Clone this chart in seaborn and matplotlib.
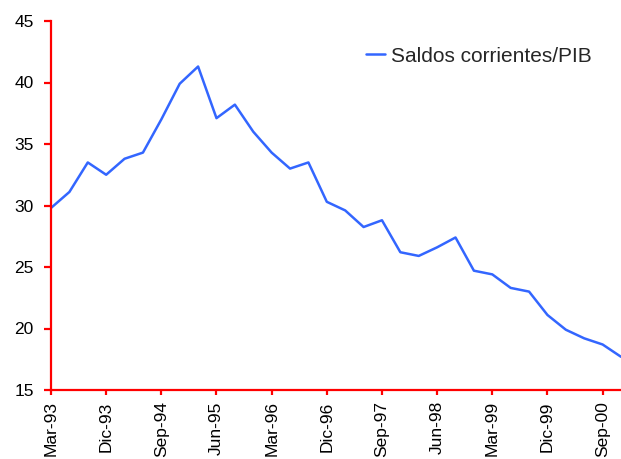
import matplotlib
matplotlib.use("Agg")
import matplotlib.pyplot as plt
import seaborn as sns
import pandas as pd

quarters = ["Mar-93", "Jun-93", "Sep-93", "Dic-93",
            "Mar-94", "Jun-94", "Sep-94", "Dic-94",
            "Mar-95", "Jun-95", "Sep-95", "Dic-95",
            "Mar-96", "Jun-96", "Sep-96", "Dic-96",
            "Mar-97", "Jun-97", "Sep-97", "Dic-97",
            "Mar-98", "Jun-98", "Sep-98", "Dic-98",
            "Mar-99", "Jun-99", "Sep-99", "Dic-99",
            "Mar-00", "Jun-00", "Sep-00", "Dic-00"]
saldos = [29.8, 31.1, 33.5, 32.5,
          33.8, 34.3, 37.0, 39.9,
          41.3, 37.1, 38.2, 36.0,
          34.3, 33.0, 33.5, 30.3,
          29.6, 28.25, 28.8, 26.2,
          25.9, 26.6, 27.4, 24.7,
          24.4, 23.3, 23.0, 21.1,
          19.9, 19.2, 18.7, 17.7]
series_name = "Saldos corrientes/PIB"
yticks = [15, 20, 25, 30, 35, 40, 45]

sns.set_style("white")
plt.rcParams['font.family'] = ['Liberation Sans', 'DejaVu Sans']

df = pd.DataFrame({"idx": range(len(quarters)), "q": quarters, "val": saldos})

fig = plt.figure(figsize=(6.21, 4.59), dpi=100)
ax = fig.add_axes([51/621, 1-390/459, 1-51/621, (390-21)/459])
sns.lineplot(data=df, x="idx", y="val", ax=ax, color="#3366FF", linewidth=1.8,
             label=series_name)

ax.set_xlim(0, len(quarters) - 1)
ax.set_ylim(15, 45)
ax.set_yticks(yticks)
ax.set_yticklabels([str(t) for t in yticks], fontsize=12.5)
tick_idx = list(range(0, len(quarters), 3))
ax.set_xticks(tick_idx)
ax.set_xticklabels([quarters[i] for i in tick_idx], rotation=90, fontsize=12.5)
ax.set_xlabel("")
ax.set_ylabel("")

for s in ["top", "right"]:
    ax.spines[s].set_visible(False)
for s in ["left", "bottom"]:
    ax.spines[s].set_color("red")
    ax.spines[s].set_linewidth(1.6)
ax.tick_params(axis="both", colors="red", labelcolor="black", direction="out",
               width=1.6, bottom=True, left=True)
ax.tick_params(axis="y", length=5, pad=7.5)
ax.tick_params(axis="x", length=3.6, pad=4.5)

leg = ax.legend(loc="center left", bbox_to_anchor=(366/621, 1-56/459),
                bbox_transform=fig.transFigure, frameon=False, borderpad=0,
                borderaxespad=0, fontsize=15, handlelength=0.9,
                handletextpad=0.3)
ax.patch.set_alpha(0)
fig.savefig("out.png", dpi=100)
